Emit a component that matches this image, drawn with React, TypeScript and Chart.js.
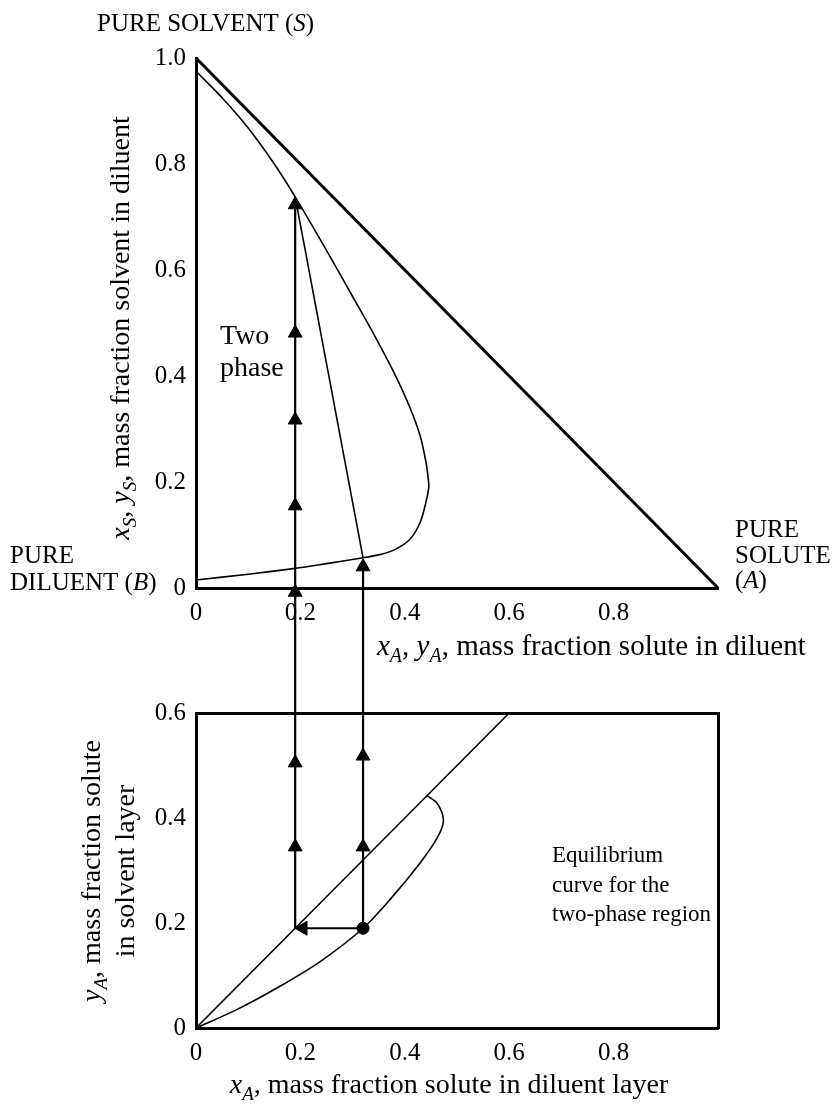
import React, { useEffect, useRef } from 'react';
import { Chart, registerables } from 'chart.js';

Chart.register(...registerables);

const PAGE_W = 834;
const PAGE_H = 1105;
const SPLIT = 666;
const FAMILY = '"Liberation Serif", "Times New Roman", serif';
const FS = 25;
const INK = '#000';

// ---------- Upper diagram: right-triangle phase diagram ----------
const xTicksTop = [0, 0.2, 0.4, 0.6, 0.8];
const yTicksTop = [0, 0.2, 0.4, 0.6, 0.8, 1.0];
const hypotenuseX = [0, 1];
const hypotenuseY = [1, 0];
const binodalX = [0, 0.05, 0.1, 0.15, 0.19, 0.25, 0.3, 0.34, 0.38, 0.41, 0.43, 0.441, 0.445, 0.446, 0.44, 0.43, 0.41, 0.38, 0.352, 0.32, 0.25, 0.19, 0.1, 0];
const binodalY = [0.975, 0.925, 0.868, 0.8, 0.738, 0.637, 0.55, 0.48, 0.405, 0.34, 0.285, 0.235, 0.205, 0.19, 0.16, 0.125, 0.092, 0.072, 0.063, 0.057, 0.046, 0.037, 0.026, 0.015];
const tieLineX = [0.19, 0.32];
const tieLineY = [0.738, 0.057];
const raffinateX = 0.19;
const extractX = 0.32;
const topLeftLineY = [-0.3, 0.73];
const topRightLineY = [-0.3, 0.05];
const topLeftArrowsY = [0.723, 0.481, 0.317, 0.155, -0.008];
const topRightArrowsY = [0.04];

// ---------- Lower diagram: equilibrium distribution ----------
const xTicksBot = [0, 0.2, 0.4, 0.6, 0.8];
const yTicksBot = [0, 0.2, 0.4, 0.6];
const diagonalX = [0, 0.6];
const diagonalY = [0, 0.6];
const equilibriumX = [0, 0.08, 0.16, 0.24, 0.32, 0.372, 0.429, 0.462, 0.474, 0.462, 0.442];
const equilibriumY = [0, 0.036, 0.079, 0.128, 0.19, 0.245, 0.314, 0.362, 0.395, 0.428, 0.443];
const stepY = 0.19;
const botLineY = [0.19, 1.0];
const horizontalX = [0.32, 0.19];
const leftArrowX = [0.205];
const botLeftArrowsY = [0.345, 0.505, 0.668];
const botRightArrowsY = [0.345, 0.518, 0.668];
const dotX = [0.32];
const dotY = [0.19];

type Seg = { t: string; i?: boolean; s?: boolean };
type TextItem = { lines: Seg[][]; x: number; y: number; lh: number; size: number; align?: 'left' | 'center'; rot?: boolean };

const pts = (xs: number[], ys: number[]) => xs.map((x, k) => ({ x, y: ys[k] }));
const fmt = (v: number) => (Math.abs(v) < 1e-9 ? '0' : v.toFixed(1));

function segFont(seg: Seg, size: number) {
  const sz = seg.s ? Math.round(size * 0.68) : size;
  return `${seg.i ? 'italic ' : ''}${sz}px ${FAMILY}`;
}

function drawRich(ctx: CanvasRenderingContext2D, segs: Seg[], align: 'left' | 'center', size: number) {
  const widths = segs.map((sg) => {
    ctx.font = segFont(sg, size);
    return ctx.measureText(sg.t).width;
  });
  const total = widths.reduce((a, b) => a + b, 0);
  let cx = align === 'center' ? -total / 2 : 0;
  segs.forEach((sg, k) => {
    ctx.font = segFont(sg, size);
    ctx.fillText(sg.t, cx, sg.s ? size * 0.24 : 0);
    cx += widths[k];
  });
}

function textPlugin(items: TextItem[]) {
  return {
    id: 'annotText',
    afterDraw(chart: Chart) {
      const ctx = chart.ctx;
      items.forEach((it) => {
        ctx.save();
        ctx.fillStyle = INK;
        ctx.textBaseline = 'alphabetic';
        ctx.textAlign = 'left';
        ctx.translate(it.x, it.y);
        if (it.rot) ctx.rotate(-Math.PI / 2);
        it.lines.forEach((line, k) => {
          ctx.save();
          ctx.translate(0, k * it.lh);
          drawRich(ctx, line, it.align || 'left', it.size);
          ctx.restore();
        });
        ctx.restore();
      });
    },
  };
}

const T = (t: string): Seg => ({ t });
const I = (t: string): Seg => ({ t, i: true });
const S = (t: string): Seg => ({ t, i: true, s: true });

const topTexts: TextItem[] = [
  { lines: [[T('PURE SOLVENT ('), I('S'), T(')')]], x: 97, y: 31, lh: 26, size: 25 },
  { lines: [[T('PURE')], [T('DILUENT ('), I('B'), T(')')]], x: 10, y: 563, lh: 27, size: 25 },
  { lines: [[T('PURE')], [T('SOLUTE')], [T('('), I('A'), T(')')]], x: 735, y: 537, lh: 25.5, size: 25 },
  { lines: [[T('Two')], [T('phase')]], x: 220, y: 344, lh: 32, size: 28 },
  { lines: [[I('x'), S('A'), T(', '), I('y'), S('A'), T(', mass fraction solute in diluent')]], x: 377, y: 655, lh: 26, size: 29 },
  { lines: [[I('x'), S('S'), T(', '), I('y'), S('S'), T(', mass fraction solvent in diluent')]], x: 129, y: 328, lh: 26, size: 28, align: 'center', rot: true },
];

const botTexts: TextItem[] = [
  { lines: [[T('Equilibrium')], [T('curve for the')], [T('two-phase region')]], x: 552, y: 196, lh: 29.5, size: 23 },
  { lines: [[I('x'), S('A'), T(', mass fraction solute in diluent layer')]], x: 449, y: 427, lh: 26, size: 28, align: 'center' },
  { lines: [[I('y'), S('A'), T(', mass fraction solute')], [T('in solvent layer')]], x: 100, y: 205, lh: 34, size: 28, align: 'center', rot: true },
];

const lineDs = (data: { x: number; y: number }[], width: number, tension = 0) => ({
  data,
  showLine: true,
  borderColor: INK,
  borderWidth: width,
  pointRadius: 0,
  tension,
  clip: false as const,
  fill: false,
});

const arrowDs = (data: { x: number; y: number }[], rotation = 0) => ({
  data,
  showLine: false,
  pointStyle: 'triangle' as const,
  pointRadius: 8,
  pointRotation: rotation,
  pointBackgroundColor: INK,
  pointBorderColor: INK,
  pointBorderWidth: 1,
  clip: false as const,
});

function axisBase(ticks: number[], hideOne: boolean) {
  return {
    type: 'linear' as const,
    grid: { display: false, drawTicks: false },
    border: { display: true, color: INK, width: 3 },
    afterBuildTicks: (axis: any) => {
      axis.ticks = ticks.map((v) => ({ value: v }));
    },
    ticks: {
      color: INK,
      font: { family: FAMILY, size: FS },
      padding: 10,
      autoSkip: false,
      maxRotation: 0,
      callback: (v: any) => (hideOne && v > 0.95 ? '' : fmt(Number(v))),
    },
  };
}

function topConfig(): any {
  return {
    type: 'scatter',
    data: {
      datasets: [
        lineDs(pts(hypotenuseX, hypotenuseY), 3),
        lineDs(pts(binodalX, binodalY), 1.6, 0.25),
        lineDs(pts(tieLineX, tieLineY), 1.6),
        lineDs(pts([raffinateX, raffinateX], topLeftLineY), 2.2),
        lineDs(pts([extractX, extractX], topRightLineY), 2.2),
        arrowDs(pts(topLeftArrowsY.map(() => raffinateX), topLeftArrowsY)),
        arrowDs(pts(topRightArrowsY.map(() => extractX), topRightArrowsY)),
      ],
    },
    options: {
      responsive: false,
      animation: false,
      events: [],
      layout: { padding: { left: 196 - 60, top: 58, right: PAGE_W - 718, bottom: SPLIT - 588 - 45 } },
      plugins: { legend: { display: false }, tooltip: { enabled: false } },
      scales: {
        x: { ...axisBase(xTicksTop, true), position: 'bottom', min: 0, max: 1, afterFit: (s: any) => { s.height = 45; } },
        y: { ...axisBase(yTicksTop, false), position: 'left', min: 0, max: 1, afterFit: (s: any) => { s.width = 60; } },
      },
    },
    plugins: [textPlugin(topTexts)],
  };
}

function botConfig(): any {
  const h = PAGE_H - SPLIT;
  return {
    type: 'scatter',
    data: {
      datasets: [
        lineDs(pts(diagonalX, diagonalY), 1.6),
        lineDs(pts(equilibriumX, equilibriumY), 1.6, 0.3),
        lineDs(pts([raffinateX, raffinateX], botLineY), 2.2),
        lineDs(pts([extractX, extractX], botLineY), 2.2),
        lineDs(pts(horizontalX, horizontalX.map(() => stepY)), 2.2),
        arrowDs(pts(botLeftArrowsY.map(() => raffinateX), botLeftArrowsY)),
        arrowDs(pts(botRightArrowsY.map(() => extractX), botRightArrowsY)),
        arrowDs(pts(leftArrowX, leftArrowX.map(() => stepY)), -90),
        {
          data: pts(dotX, dotY),
          showLine: false,
          pointStyle: 'circle',
          pointRadius: 6,
          pointBackgroundColor: INK,
          pointBorderColor: INK,
          clip: false,
        },
      ],
    },
    options: {
      responsive: false,
      animation: false,
      events: [],
      layout: { padding: { left: 196 - 60, top: 713 - SPLIT, right: PAGE_W - 718, bottom: h - (1028 - SPLIT) - 45 } },
      plugins: { legend: { display: false }, tooltip: { enabled: false } },
      scales: {
        x: { ...axisBase(xTicksBot, true), position: 'bottom', min: 0, max: 1, afterFit: (s: any) => { s.height = 45; } },
        y: { ...axisBase(yTicksBot, false), position: 'left', min: 0, max: 0.6, afterFit: (s: any) => { s.width = 60; } },
        xTop: {
          type: 'linear', position: 'top', min: 0, max: 1,
          grid: { display: false, drawTicks: false },
          border: { display: true, color: INK, width: 3 },
          ticks: { display: false },
          afterFit: (s: any) => { s.height = 0; },
        },
        yRight: {
          type: 'linear', position: 'right', min: 0, max: 0.6,
          grid: { display: false, drawTicks: false },
          border: { display: true, color: INK, width: 3 },
          ticks: { display: false },
          afterFit: (s: any) => { s.width = 0; },
        },
      },
    },
    plugins: [textPlugin(botTexts)],
  };
}

export default function App() {
  const topRef = useRef<HTMLCanvasElement>(null);
  const botRef = useRef<HTMLCanvasElement>(null);

  useEffect(() => {
    const c1 = new Chart(topRef.current as HTMLCanvasElement, topConfig());
    const c2 = new Chart(botRef.current as HTMLCanvasElement, botConfig());
    return () => {
      c1.destroy();
      c2.destroy();
    };
  }, []);

  return (
    <div style={{ position: 'absolute', left: 0, top: 0, width: PAGE_W, height: PAGE_H, overflow: 'hidden', background: '#fff' }}>
      <canvas ref={topRef} width={PAGE_W} height={SPLIT} style={{ position: 'absolute', left: 0, top: 0, width: PAGE_W, height: SPLIT }} />
      <canvas ref={botRef} width={PAGE_W} height={PAGE_H - SPLIT} style={{ position: 'absolute', left: 0, top: SPLIT, width: PAGE_W, height: PAGE_H - SPLIT }} />
    </div>
  );
}
